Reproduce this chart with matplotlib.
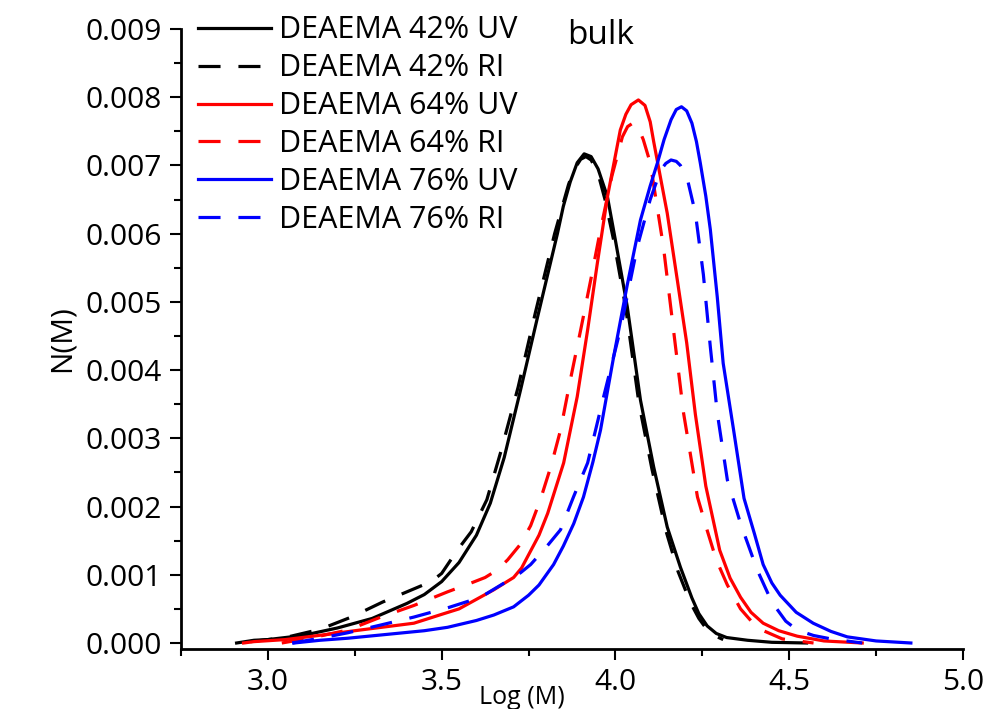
import numpy as np
import matplotlib
matplotlib.use("Agg")
import matplotlib.pyplot as plt
from matplotlib.ticker import MultipleLocator, FormatStrFormatter

plt.rcParams["font.family"] = ["Open Sans", "DejaVu Sans"]

# Curves (log M, N(M))
x_42_uv = [2.91, 2.96, 3.00, 3.10, 3.20, 3.30, 3.40, 3.45, 3.50, 3.55, 3.60, 3.64, 3.68, 3.727, 3.776,
           3.833, 3.85, 3.87, 3.89, 3.91, 3.93, 3.95, 3.977, 4.00, 4.034, 4.072, 4.11, 4.149, 4.187,
           4.22, 4.24, 4.264, 4.29, 4.32, 4.38, 4.45, 4.55]
y_42_uv = [0.0, 0.00004, 0.00005, 0.00011, 0.00022, 0.00036, 0.00058, 0.00071, 0.00090, 0.00118, 0.00158,
           0.00205, 0.00272, 0.00371, 0.00478, 0.00600, 0.00640, 0.00676, 0.00704, 0.00717, 0.00713,
           0.00695, 0.00654, 0.00590, 0.00493, 0.00356, 0.00258, 0.00170, 0.00111, 0.00066, 0.00043,
           0.00025, 0.00014, 0.00008, 0.00004, 0.00001, 0.0]

x_42_ri = [2.95, 3.05, 3.15, 3.24, 3.33, 3.40, 3.47, 3.50, 3.545, 3.585, 3.63, 3.67, 3.72, 3.77, 3.825,
           3.865, 3.88, 3.90, 3.915, 3.93, 3.95, 3.97, 3.995, 4.03, 4.068, 4.105, 4.145, 4.18, 4.215,
           4.24, 4.26, 4.28, 4.31]
y_42_ri = [0.00002, 0.00008, 0.00020, 0.00038, 0.00060, 0.00075, 0.00090, 0.00102, 0.00136, 0.00163,
           0.00210, 0.00280, 0.00375, 0.00485, 0.00600, 0.00672, 0.00693, 0.00709, 0.00713, 0.00708,
           0.00688, 0.00650, 0.00590, 0.00490, 0.00350, 0.00255, 0.00165, 0.00105, 0.00060, 0.00036,
           0.00022, 0.00012, 0.00005]

x_64_uv = [2.93, 2.96, 3.05, 3.13, 3.25, 3.42, 3.50, 3.55, 3.60, 3.65, 3.707, 3.73, 3.78, 3.805, 3.851,
           3.89, 3.92, 3.948, 3.977, 4.014, 4.03, 4.045, 4.066, 4.085, 4.10, 4.11, 4.149, 4.178, 4.205,
           4.23, 4.26, 4.30, 4.33, 4.36, 4.39, 4.425, 4.47, 4.523, 4.60, 4.71]
y_64_uv = [0.0, 0.00002, 0.00005, 0.00010, 0.00018, 0.00029, 0.00042, 0.00050, 0.00064, 0.00078, 0.00096,
           0.00110, 0.00158, 0.00190, 0.00264, 0.00361, 0.00459, 0.00557, 0.00654, 0.00752, 0.00775,
           0.00789, 0.00796, 0.00788, 0.00764, 0.00735, 0.00630, 0.00532, 0.00440, 0.00335, 0.00230,
           0.00136, 0.00095, 0.00067, 0.00045, 0.00029, 0.00018, 0.00010, 0.00003, 0.0]

x_64_ri = [3.04, 3.13, 3.23, 3.325, 3.42, 3.517, 3.585, 3.625, 3.66, 3.69, 3.727, 3.756, 3.784, 3.815,
           3.842, 3.87, 3.90, 3.93, 3.957, 3.99, 4.02, 4.035, 4.05, 4.065, 4.08, 4.10, 4.138, 4.167,
           4.196, 4.236, 4.264, 4.29, 4.322, 4.36, 4.408, 4.48, 4.57]
y_64_ri = [0.0, 0.00008, 0.00019, 0.00038, 0.00055, 0.00075, 0.00088, 0.00096, 0.00107, 0.00122, 0.00145,
           0.00172, 0.00210, 0.00260, 0.00312, 0.00385, 0.00459, 0.00535, 0.00606, 0.00685, 0.00742,
           0.00757, 0.00762, 0.00756, 0.00738, 0.00704, 0.00581, 0.00459, 0.00337, 0.00214, 0.00165,
           0.00122, 0.00085, 0.00050, 0.00022, 0.00006, 0.0]

x_76_uv = [3.075, 3.15, 3.23, 3.35, 3.45, 3.517, 3.60, 3.65, 3.707, 3.75, 3.78, 3.822, 3.85, 3.88, 3.908,
           3.935, 3.957, 3.995, 4.034, 4.072, 4.10, 4.121, 4.14, 4.16, 4.175, 4.19, 4.205, 4.22, 4.233,
           4.244, 4.26, 4.273, 4.293, 4.31, 4.34, 4.370, 4.40, 4.425, 4.45, 4.474, 4.52, 4.569, 4.62,
           4.667, 4.75, 4.85]
y_76_uv = [0.0, 0.00004, 0.00007, 0.00013, 0.00018, 0.00023, 0.00033, 0.00041, 0.00053, 0.00070, 0.00085,
           0.00115, 0.00142, 0.00175, 0.00214, 0.00265, 0.00312, 0.00420, 0.00525, 0.00620, 0.00670,
           0.00704, 0.00738, 0.00767, 0.00782, 0.00786, 0.00780, 0.00762, 0.00735, 0.00704, 0.00655,
           0.00606, 0.00507, 0.00410, 0.00312, 0.00212, 0.00160, 0.00115, 0.00088, 0.00070, 0.00045,
           0.00029, 0.00017, 0.00009, 0.00003, 0.0]

x_76_ri = [3.07, 3.15, 3.23, 3.33, 3.42, 3.52, 3.612, 3.68, 3.727, 3.756, 3.80, 3.842, 3.88, 3.92, 3.966,
           4.014, 4.063, 4.10, 4.13, 4.145, 4.16, 4.175, 4.187, 4.207, 4.23, 4.253, 4.273, 4.293, 4.322,
           4.36, 4.408, 4.45, 4.49, 4.523, 4.57, 4.62, 4.71]
y_76_ri = [0.0, 0.00007, 0.00015, 0.00027, 0.00038, 0.00052, 0.00067, 0.00088, 0.00103, 0.00115, 0.00140,
           0.00166, 0.00215, 0.00264, 0.00361, 0.00459, 0.00581, 0.00650, 0.00693, 0.00703, 0.00708,
           0.00706, 0.00700, 0.00680, 0.00630, 0.00540, 0.00434, 0.00337, 0.00239, 0.00175, 0.00107,
           0.00060, 0.00032, 0.00019, 0.00011, 0.00006, 0.0]

fig = plt.figure(figsize=(9.89, 7.09), dpi=100)
ax = fig.add_axes([181 / 989, 60 / 709, 782 / 989, 620 / 709])

lw = 2.3
dash = (6.9, 5.6)
ax.plot(x_42_uv, y_42_uv, color="black", lw=lw, label="DEAEMA 42% UV")
ax.plot(x_42_ri, y_42_ri, color="black", lw=lw, dashes=dash, label="DEAEMA 42% RI")
ax.plot(x_64_uv, y_64_uv, color="#ff0000", lw=lw, label="DEAEMA 64% UV")
ax.plot(x_64_ri, y_64_ri, color="#ff0000", lw=lw, dashes=dash, label="DEAEMA 64% RI")
ax.plot(x_76_uv, y_76_uv, color="#0000ff", lw=lw, label="DEAEMA 76% UV")
ax.plot(x_76_ri, y_76_ri, color="#0000ff", lw=lw, dashes=dash, label="DEAEMA 76% RI")

ax.set_xlim(2.75, 5.0)
ax.set_ylim(-0.000088, 0.009)

ax.spines["top"].set_visible(False)
ax.spines["right"].set_visible(False)
ax.spines["left"].set_linewidth(2)
ax.spines["bottom"].set_linewidth(2)

ax.xaxis.set_major_locator(MultipleLocator(0.5))
ax.xaxis.set_minor_locator(MultipleLocator(0.25))
ax.yaxis.set_major_locator(MultipleLocator(0.001))
ax.yaxis.set_minor_locator(MultipleLocator(0.0005))
ax.xaxis.set_major_formatter(FormatStrFormatter("%.1f"))
ax.yaxis.set_major_formatter(FormatStrFormatter("%.3f"))
ax.tick_params(which="major", direction="out", length=8, width=1.5, labelsize=21.5, pad=6)
ax.tick_params(which="minor", direction="out", length=5, width=1.5)

ax.set_ylabel("N(M)", fontsize=21.5)
ax.yaxis.set_label_coords(-0.133, 0.5)
ax.set_xlabel("Log (M)", fontsize=18)
ax.xaxis.set_label_coords(0.436, -0.058)

ax.text(0.536, 0.989, "bulk", transform=ax.transAxes, fontsize=24, ha="center", va="center")

ax.legend(loc="upper left", bbox_to_anchor=(0.0214, 1.022), frameon=False, fontsize=22,
          handlelength=2.4, handletextpad=0.26, labelspacing=0.26, borderpad=0, borderaxespad=0)

fig.savefig("out.png", dpi=100)
